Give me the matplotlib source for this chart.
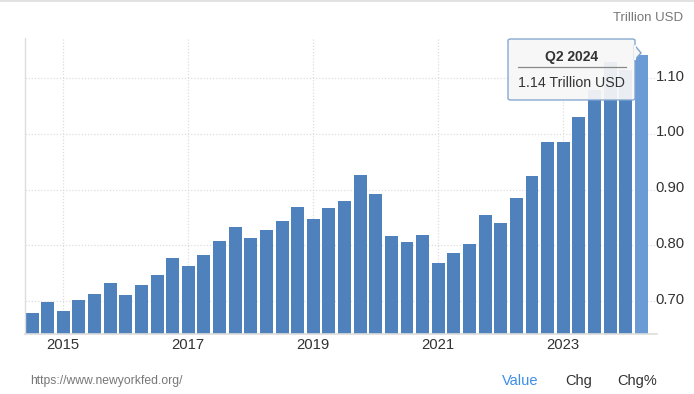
import matplotlib
matplotlib.use("Agg")
import matplotlib.pyplot as plt
from matplotlib.patches import FancyBboxPatch, Polygon
from matplotlib.lines import Line2D
from matplotlib.transforms import ScaledTranslation

quarters = [f"Q{q} {y}" for y in range(2014, 2025) for q in range(1, 5)][2:42]
values = [0.679, 0.699, 0.683, 0.702, 0.713, 0.733, 0.711, 0.729, 0.747, 0.778,
          0.763, 0.783, 0.808, 0.833, 0.814, 0.828, 0.844, 0.869, 0.848, 0.867,
          0.880, 0.927, 0.893, 0.817, 0.806, 0.819, 0.769, 0.787, 0.803, 0.855,
          0.840, 0.885, 0.925, 0.986, 0.986, 1.031, 1.079, 1.129, 1.115, 1.142]
year_ticks = ["2015", "2017", "2019", "2021", "2023"]
y_ticks = [0.70, 0.80, 0.90, 1.00, 1.10]

W, H = 694, 394
fig = plt.figure(figsize=(W / 100, H / 100), dpi=100)
plt.rcParams['font.family'] = ['Liberation Sans', 'DejaVu Sans']

def fx(px):
    return px / W

def fy(py):
    return 1 - py / H

ax = fig.add_axes([fx(25), fy(334), fx(657) - fx(25), fy(38) - fy(334)])
x = list(range(len(values)))
colors = ['#4f81bd'] * (len(values) - 1) + ['#6a9bd5']
ax.bar(x, values, width=0.83, color=colors, zorder=2)
ax.set_xlim(-0.45, 40.0)
ax.set_ylim(0.641, 1.172)

tick_pos = [quarters.index("Q1 " + y) for y in year_ticks]
ax.set_xticks(tick_pos)
ax.set_xticklabels(year_ticks)
ax.set_yticks(y_ticks)
ax.set_yticklabels([f"{v:.2f}" for v in y_ticks])
ax.yaxis.tick_right()
ax.tick_params(axis='both', length=0, labelsize=10.7, colors='#333333')
ax.tick_params(axis='y', pad=-1)
ax.tick_params(axis='x', pad=3)
ax.grid(True, color='#dddddd', linestyle=(0, (1, 1.5)), linewidth=0.9, zorder=0)
ax.set_axisbelow(True)
for s in ['top', 'right']:
    ax.spines[s].set_visible(False)
ax.spines['left'].set_color('#dddddd')
ax.spines['bottom'].set_color('#dddddd')
ax.spines['bottom'].set_linewidth(1.2)
ax.spines['left'].set_linewidth(1.0)

up = ScaledTranslation(0, 3 / 100, fig.dpi_scale_trans)
for lab in ax.get_yticklabels():
    lab.set_transform(lab.get_transform() + up)

# top border line of container
fig.add_artist(Line2D([0, 1], [fy(1), fy(1)], color='#dddddd', lw=1.2, transform=fig.transFigure))

fig.text(fx(683), fy(18), "Trillion USD", ha='right', va='center', fontsize=9.5, color='#777777')

# tooltip
box = FancyBboxPatch((fx(508), fy(100)), fx(635) - fx(508), fy(39) - fy(100),
                     boxstyle="round,pad=0,rounding_size=0.004", transform=fig.transFigure,
                     facecolor='#f7f7f7', edgecolor='#7fa3cf', lw=1.0, alpha=0.93, zorder=10)
fig.add_artist(box)
tri = Polygon([[fx(634.5), fy(45)], [fx(641), fy(53)], [fx(634.5), fy(60)]], closed=True,
              transform=fig.transFigure, facecolor='#f7f7f7', edgecolor='#7fa3cf', lw=1.0, zorder=11)
fig.add_artist(tri)
fig.add_artist(Line2D([fx(634.6), fx(634.6)], [fy(45.8), fy(59.2)], color='#f7f7f7', lw=1.5,
                      transform=fig.transFigure, zorder=12))
fig.text(fx(571.5), fy(57), "Q2 2024", ha='center', va='center', fontsize=10,
         fontweight='bold', color='#333333', zorder=13)
fig.add_artist(Line2D([fx(518), fx(626)], [fy(67), fy(67)], color='#888888', lw=0.9,
                      transform=fig.transFigure, zorder=13))
fig.text(fx(571.5), fy(83), "1.14 Trillion USD", ha='center', va='center', fontsize=10.2,
         color='#333333', zorder=13)

fig.text(fx(30), fy(381), "https://www.newyorkfed.org/", ha='left', va='center', fontsize=8.7, color='#777777')
fig.text(fx(502), fy(381), "Value", ha='left', va='center', fontsize=10.5, color='#3d8ee8')
fig.text(fx(565), fy(381), "Chg", ha='left', va='center', fontsize=10.5, color='#333333')
fig.text(fx(617), fy(381), "Chg%", ha='left', va='center', fontsize=10.5, color='#333333')

fig.savefig("out.png", dpi=100)
